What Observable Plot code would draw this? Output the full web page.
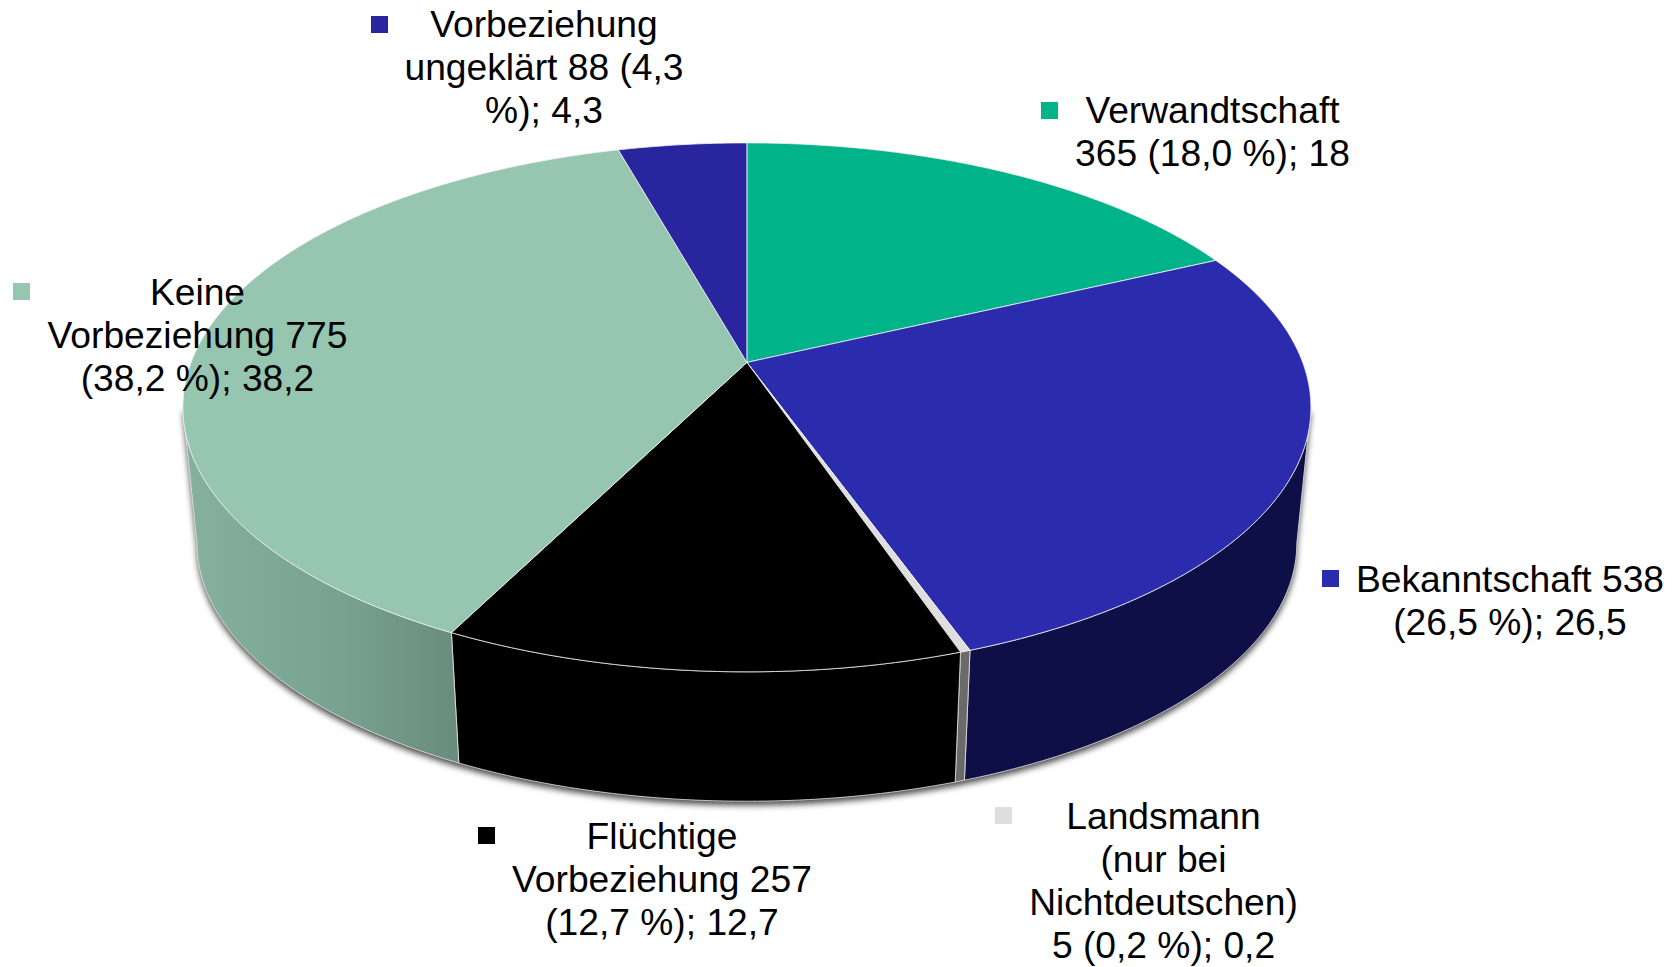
<!DOCTYPE html>
<html lang="de">
<head>
<meta charset="utf-8">
<title>Vorbeziehung</title>
<script src="https://cdn.jsdelivr.net/npm/d3@7"></script>
<script src="https://cdn.jsdelivr.net/npm/@observablehq/plot@0.6"></script>
<style>
html,body{margin:0;padding:0;background:#fff}
svg{display:block}
</style>
</head>
<body>
<div id="chart"></div>
<script>
// Data, clockwise from twelve o'clock
const sliceNames = ["Verwandtschaft", "Bekanntschaft", "Landsmann", "Flüchtige Vorbeziehung", "Keine Vorbeziehung", "Vorbeziehung ungeklärt"];
const sliceCounts = [365, 538, 5, 257, 775, 88];
const sliceLabels = [
  "Verwandtschaft\n365 (18,0 %); 18",
  "Bekanntschaft 538\n(26,5 %); 26,5",
  "Landsmann\n(nur bei\nNichtdeutschen)\n5 (0,2 %); 0,2",
  "Flüchtige\nVorbeziehung 257\n(12,7 %); 12,7",
  "Keine\nVorbeziehung 775\n(38,2 %); 38,2",
  "Vorbeziehung\nungeklärt 88 (4,3\n%); 4,3"
];

// Styles
const topColors = ["#00B388", "#2B2BAE", "#DEDEDE", "#000000", "#96C5B0", "#29259F"];
const sideColors = ["#007a5d", "#0F0F48", "#6A6A6A", "#000000", "url(#paleSide)", "#15124f"];

// Label layout, in the chart's pixel-sized scale units
const labelX = [1212, 1509.5, 1163, 661.5, 197, 543.5];
const labelY = [130.5, 599, 879, 877.5, 333.5, 65.5];
const keyX = [1049, 1330, 1003, 486, 21, 379];
const keyY = [110, 578, 815, 835, 291, 24];

// Perspective disc geometry
const W = 1679, H = 967;
const cx = 746.4, A = 555.8, apexY = 361.9, ky = 195.3, persp = -0.17;
const rimShrink = 0.975, ellipseY = 407, drop = 136;
const total = d3.sum(sliceCounts);
const rad = d => d * Math.PI / 180;
const project = t => {
  const u = Math.sin(t), v = -Math.cos(t), w = 1 + persp * v;
  return [cx + A * u / w, (ky * v + apexY) / w];
};
const lower = t => {
  const [x, y] = project(t);
  return [cx + (x - cx) * rimShrink, ellipseY + (y - ellipseY) * rimShrink + drop];
};
const sweep = (a, b) => {
  const n = Math.max(2, Math.ceil((b - a) / rad(0.5)));
  return d3.range(n + 1).map(i => a + (b - a) * i / n);
};

const frontA = Math.acos(persp);                // right-hand tangent
const frontB = 2 * Math.PI - Math.acos(persp);  // left-hand tangent

let acc = 0;
const tops = [], sides = [];
sliceCounts.forEach((c, i) => {
  const a = acc / total * 2 * Math.PI;
  acc += c;
  const b = acc / total * 2 * Math.PI;
  const arc = sweep(a, b).map(project);
  const apex = [cx, apexY];
  [apex, ...arc, apex].forEach(p => tops.push({id: sliceNames[i], x: p[0], y: p[1], fill: topColors[i]}));
  const s = Math.max(a, frontA), e = Math.min(b, frontB);
  if (e > s) {
    const t = sweep(s, e);
    const ring = [...t.map(project), ...t.slice().reverse().map(lower)];
    [...ring, ring[0]].forEach(p => sides.push({id: sliceNames[i], x: p[0], y: p[1], fill: sideColors[i]}));
  }
});
const shadow = [...sweep(frontA, frontB).map(lower), project(frontB), project(Math.PI), project(frontA)]
  .map(p => ({x: p[0], y: p[1] + 4}));

const labels = sliceLabels.map((text, i) => ({text, x: labelX[i], y: labelY[i]}));
const keys = topColors.map((fill, i) => ({fill, x: keyX[i], y: keyY[i]}));

const gradient = () => {
  const defs = d3.create("svg:defs");
  const g = defs.append("linearGradient").attr("id", "paleSide").attr("x1", 0).attr("x2", 1).attr("y1", 0).attr("y2", 0);
  [[0, "#86B19E"], [0.55, "#79A391"], [1, "#698C7C"]].forEach(([o, col]) =>
    g.append("stop").attr("offset", o).attr("stop-color", col));
  return defs.node();
};

const pos = {x: "x", y: "y"};
const chart = Plot.plot({
  width: W, height: H,
  margin: 0, marginTop: 0, marginRight: 0, marginBottom: 0, marginLeft: 0,
  style: {background: "#fff"},
  x: {axis: null, domain: [0, W], range: [0, W]},
  y: {axis: null, domain: [0, H], range: [0, H]},
  color: {type: "identity"},
  marks: [
    gradient,
    Plot.line(shadow, {...pos, fill: "#4a4a4a", imageFilter: "blur(3px)", curve: "linear"}),
    Plot.line(sides, {...pos, z: "id", fill: "fill", stroke: "#e8e8e8", strokeWidth: 0.8, curve: "linear"}),
    Plot.line(tops, {...pos, z: "id", fill: "fill", stroke: "#f2f2f2", strokeWidth: 0.8, curve: "linear"}),
    Plot.dot(keys, {...pos, fill: "fill", symbol: "square", r: 9.6}),
    Plot.text(labels, {...pos, text: "text", fill: "#000", fontSize: 37.2, lineHeight: 1.155, fontFamily: "Liberation Sans, Arial, sans-serif", textAnchor: "middle", lineAnchor: "middle"})
  ]
});
document.getElementById("chart").appendChild(chart);
</script>
</body>
</html>
